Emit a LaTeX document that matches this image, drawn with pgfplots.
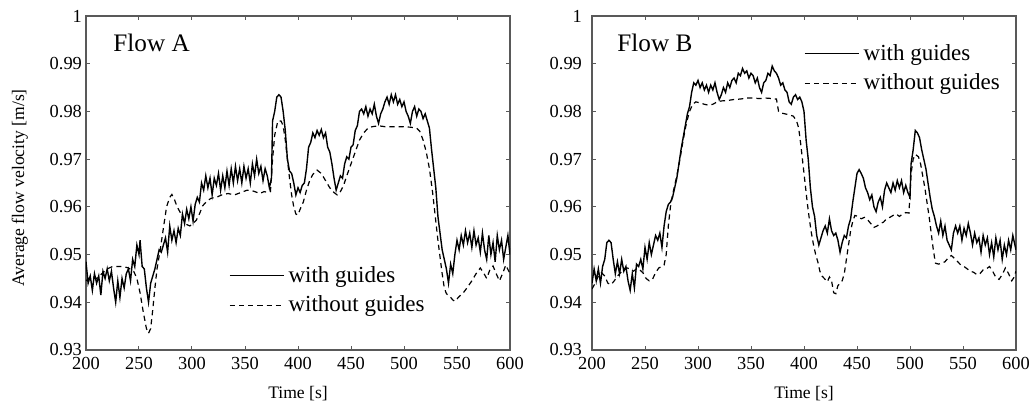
\documentclass[border=0pt]{standalone}
\usepackage{pgfplots}
\pgfplotsset{compat=1.18}
\usepackage{fontspec}
\setmainfont{Liberation Serif}
\definecolor{framegray}{gray}{0.35}

\pgfplotsset{
  panel/.style={
    scale only axis, width=212pt, height=167pt,
    xmin=200, xmax=600, ymin=0.93, ymax=1,
    xtick={200,250,300,350,400,450,500,550,600},
    ytick={0.93,0.94,0.95,0.96,0.97,0.98,0.99,1},
    yticklabels={0.93,0.94,0.95,0.96,0.97,0.98,0.99,1},
    tick align=inside, major tick length=2.2pt,
    axis line style={framegray, line width=0.6pt},
    every tick/.style={framegray, line width=0.5pt},
    ticklabel style={font=\fontsize{9.2}{10}\selectfont},
    /pgf/number format/assume math mode=true,
    xlabel={Time [s]},
    label style={font=\fontsize{8.8}{10}\selectfont},
    xlabel style={at={(axis description cs:0.5,-0.129)}, anchor=center},
    legend cell align=left,
    legend style={draw=none, fill=none, font=\fontsize{11.5}{13}\selectfont,
      row sep=1.4pt, inner sep=1pt},
    legend image code/.code={\draw[#1] (0pt,0pt) -- (23.5pt,0pt); \path (0pt,0pt) -- (27pt,0pt);},
  },
  wg/.style={black, line width=0.7pt},
  wog/.style={black, line width=0.6pt, dash pattern=on 2.6pt off 2pt},
}

\begin{document}
\begin{tikzpicture}
% ---------------- Flow A ----------------
\begin{axis}[panel, at={(0pt,0pt)}, anchor=south west,
  ylabel={Average flow velocity [m/s]},
  ylabel style={at={(axis description cs:-0.156,0.485)}, anchor=center},
  yticklabel style={xshift=1.5pt},
  legend style={at={(0.332,0.27)}, anchor=north west}]
\addplot[wg] coordinates {
(200,0.9485)(202,0.9440)(204,0.9455)(206,0.9425)(208,0.9460)(210,0.9440)(212,0.9455)(214,0.9415)(216,0.9465)(218,0.9450)
(220,0.9470)(222,0.9445)(224,0.9465)(226,0.9430)(228,0.9400)(230,0.9445)(232,0.9410)(234,0.9450)(236,0.9430)(238,0.9460)
(240,0.9470)(242,0.9445)(244,0.9490)(246,0.9475)(248,0.9520)(250,0.9500)(251,0.9530)(253,0.9475)(255,0.9470)(257,0.9430)
(259,0.9400)(261,0.9440)(263,0.9455)(265,0.9470)(267,0.9490)(269,0.9510)(271,0.9505)(273,0.9520)(275,0.9535)(277,0.9505)
(279,0.9560)(281,0.9530)(283,0.9550)(285,0.9525)(287,0.9555)(289,0.9540)(291,0.9585)(293,0.9565)(295,0.9595)(297,0.9575)
(299,0.9600)(301,0.9570)(303,0.9605)(305,0.9620)(307,0.9610)(309,0.9650)(311,0.9635)(313,0.9665)(315,0.9640)(317,0.9660)
(319,0.9625)(321,0.9660)(323,0.9645)(325,0.9670)(327,0.9635)(329,0.9665)(331,0.9640)(333,0.9675)(335,0.9645)(337,0.9680)
(339,0.9650)(341,0.9685)(343,0.9655)(345,0.9680)(347,0.9650)(349,0.9685)(351,0.9660)(353,0.9680)(355,0.9650)(357,0.9690)
(359,0.9665)(361,0.9700)(363,0.9670)(365,0.9685)(367,0.9655)(369,0.9680)(371,0.9665)(373,0.9640)(375,0.9660)(376,0.9780)
(378,0.9800)(380,0.9830)(382,0.9835)(384,0.9830)(386,0.9800)(388,0.9760)(390,0.9700)(392,0.9675)(394,0.9670)(396,0.9650)
(398,0.9625)(400,0.9640)(402,0.9630)(404,0.9645)(406,0.9650)(408,0.9680)(410,0.9725)(412,0.9735)(414,0.9755)(416,0.9745)
(418,0.9760)(420,0.9750)(422,0.9762)(424,0.9745)(426,0.9755)(428,0.9725)(430,0.9715)(432,0.9690)(434,0.9660)(436,0.9635)
(438,0.9650)(440,0.9665)(442,0.9660)(444,0.9690)(446,0.9705)(448,0.9700)(450,0.9725)(452,0.9730)(454,0.9760)(456,0.9770)
(458,0.9800)(460,0.9805)(462,0.9795)(464,0.9810)(466,0.9790)(468,0.9805)(470,0.9795)(472,0.9815)(474,0.9790)(476,0.9775)
(478,0.9795)(480,0.9805)(482,0.9820)(484,0.9830)(486,0.9815)(488,0.9835)(490,0.9820)(492,0.9835)(494,0.9815)(496,0.9825)
(498,0.9810)(500,0.9820)(502,0.9800)(504,0.9790)(506,0.9775)(508,0.9800)(510,0.9810)(512,0.9790)(514,0.9805)(516,0.9800)
(518,0.9785)(520,0.9795)(522,0.9780)(524,0.9765)(526,0.9720)(528,0.9680)(530,0.9640)(532,0.9580)(534,0.9545)(536,0.9510)
(538,0.9490)(540,0.9470)(542,0.9440)(544,0.9480)(546,0.9460)(548,0.9500)(550,0.9530)(552,0.9510)(554,0.9540)(556,0.9520)
(558,0.9550)(560,0.9525)(562,0.9545)(564,0.9515)(566,0.9550)(568,0.9520)(570,0.9535)(572,0.9505)(574,0.9545)(576,0.9510)
(578,0.9490)(580,0.9540)(582,0.9500)(584,0.9525)(586,0.9485)(588,0.9540)(590,0.9510)(592,0.9530)(594,0.9490)(596,0.9515)
(598,0.9540)(600,0.9500)
};
\addlegendentry{with guides}
\addplot[wog] coordinates {
(200,0.9445)(205,0.9455)(210,0.9450)(215,0.9460)(220,0.9470)(225,0.9475)(230,0.9475)(235,0.9475)(240,0.9472)(245,0.9465)
(248,0.9450)(251,0.9420)(254,0.9380)(257,0.9345)(259,0.9335)(261,0.9345)(263,0.9385)(265,0.9430)(267,0.9470)(270,0.9510)
(273,0.9555)(276,0.9600)(279,0.9620)(281,0.9626)(283,0.9618)(286,0.9600)(289,0.9588)(292,0.9575)(295,0.9563)(298,0.9560)
(301,0.9565)(304,0.9572)(307,0.9585)(310,0.9602)(314,0.9612)(318,0.9618)(323,0.9620)(328,0.9625)(334,0.9628)(340,0.9625)
(346,0.9630)(352,0.9635)(358,0.9633)(364,0.9628)(368,0.9632)(372,0.9630)(374,0.9632)(376,0.9700)(378,0.9750)(381,0.9780)
(384,0.9780)(386,0.9770)(388,0.9740)(390,0.9700)(392,0.9660)(394,0.9625)(396,0.9600)(398,0.9585)(400,0.9583)(402,0.9595)
(405,0.9610)(408,0.9635)(411,0.9655)(414,0.9668)(418,0.9677)(422,0.9670)(426,0.9655)(430,0.9640)(434,0.9630)(437,0.9625)
(440,0.9632)(443,0.9645)(446,0.9665)(450,0.9690)(454,0.9715)(458,0.9740)(462,0.9755)(466,0.9765)(470,0.9768)(476,0.9770)
(482,0.9768)(490,0.9768)(498,0.9768)(506,0.9767)(512,0.9765)(515,0.9758)(518,0.9740)(521,0.9715)(524,0.9680)(527,0.9630)
(530,0.9570)(532,0.9530)(534,0.9495)(536,0.9460)(538,0.9430)(540,0.9418)(543,0.9413)(546,0.9405)(548,0.9402)(552,0.9412)
(556,0.9420)(560,0.9432)(564,0.9445)(568,0.9460)(572,0.9472)(575,0.9462)(578,0.9450)(581,0.9468)(584,0.9476)(587,0.9460)
(590,0.9445)(593,0.9460)(596,0.9478)(600,0.9460)
};
\addlegendentry{without guides}
\end{axis}

% ---------------- Flow B ----------------
\begin{axis}[panel, at={(253pt,0pt)}, anchor=south west,
  yticklabel style={xshift=-1.5pt},
  legend style={at={(0.495,0.935)}, anchor=north west}]
\addplot[wg] coordinates {
(200,0.9440)(202,0.9470)(204,0.9445)(206,0.9470)(208,0.9440)(210,0.9475)(212,0.9490)(214,0.9525)(216,0.9530)(218,0.9525)
(220,0.9490)(222,0.9460)(224,0.9485)(226,0.9460)(228,0.9490)(230,0.9465)(232,0.9475)(234,0.9445)(236,0.9425)(238,0.9460)
(240,0.9430)(242,0.9480)(244,0.9475)(246,0.9490)(248,0.9470)(250,0.9515)(252,0.9490)(254,0.9525)(256,0.9500)(258,0.9520)
(260,0.9540)(262,0.9530)(264,0.9545)(266,0.9515)(268,0.9560)(270,0.9590)(272,0.9605)(274,0.9610)(276,0.9620)(278,0.9640)
(280,0.9660)(282,0.9690)(284,0.9720)(286,0.9745)(288,0.9770)(290,0.9795)(292,0.9810)(294,0.9840)(296,0.9860)(298,0.9855)
(300,0.9865)(302,0.9850)(304,0.9860)(306,0.9845)(308,0.9855)(310,0.9840)(312,0.9855)(314,0.9845)(316,0.9860)(318,0.9840)
(320,0.9825)(322,0.9835)(324,0.9850)(326,0.9840)(328,0.9860)(330,0.9850)(332,0.9865)(334,0.9870)(336,0.9860)(338,0.9880)
(340,0.9875)(342,0.9890)(344,0.9880)(346,0.9885)(348,0.9870)(350,0.9880)(352,0.9875)(354,0.9860)(356,0.9870)(358,0.9850)
(360,0.9840)(362,0.9860)(364,0.9865)(366,0.9880)(368,0.9875)(370,0.9895)(372,0.9885)(374,0.9880)(376,0.9870)(378,0.9855)
(380,0.9860)(382,0.9845)(384,0.9840)(386,0.9820)(388,0.9815)(390,0.9830)(392,0.9835)(394,0.9825)(396,0.9830)(398,0.9820)
(400,0.9800)(402,0.9740)(404,0.9700)(406,0.9640)(408,0.9600)(410,0.9580)(412,0.9540)(414,0.9520)(416,0.9535)(418,0.9550)
(420,0.9560)(422,0.9545)(424,0.9575)(426,0.9550)(428,0.9540)(430,0.9545)(432,0.9530)(434,0.9505)(436,0.9525)(438,0.9540)
(440,0.9535)(442,0.9560)(444,0.9575)(446,0.9610)(448,0.9640)(450,0.9670)(452,0.9678)(454,0.9670)(456,0.9660)(458,0.9640)
(460,0.9630)(462,0.9615)(464,0.9625)(466,0.9600)(468,0.9590)(470,0.9610)(472,0.9620)(474,0.9600)(476,0.9635)(478,0.9650)
(480,0.9640)(482,0.9630)(484,0.9650)(486,0.9635)(488,0.9655)(490,0.9640)(492,0.9655)(494,0.9630)(496,0.9645)(498,0.9630)
(500,0.9620)(501,0.9690)(503,0.9720)(505,0.9760)(507,0.9755)(509,0.9745)(511,0.9720)(513,0.9700)(515,0.9680)(517,0.9650)
(519,0.9620)(521,0.9595)(523,0.9580)(525,0.9560)(527,0.9545)(529,0.9570)(531,0.9540)(533,0.9560)(535,0.9530)(537,0.9520)
(539,0.9510)(541,0.9545)(543,0.9560)(545,0.9545)(547,0.9560)(549,0.9530)(551,0.9555)(553,0.9540)(555,0.9565)(557,0.9545)
(559,0.9520)(561,0.9545)(563,0.9525)(565,0.9535)(567,0.9505)(569,0.9540)(571,0.9520)(573,0.9535)(575,0.9500)(577,0.9525)
(579,0.9495)(581,0.9535)(583,0.9510)(585,0.9530)(587,0.9490)(589,0.9520)(591,0.9500)(593,0.9530)(595,0.9510)(597,0.9540)
(600,0.9510)
};
\addlegendentry{with guides}
\addplot[wog] coordinates {
(200,0.9428)(203,0.9440)(206,0.9455)(209,0.9462)(212,0.9455)(215,0.9440)(218,0.9437)(221,0.9445)(224,0.9455)(227,0.9462)
(230,0.9470)(233,0.9472)(236,0.9470)(239,0.9465)(242,0.9470)(245,0.9468)(248,0.9462)(251,0.9450)(254,0.9445)(257,0.9448)
(260,0.9462)(263,0.9472)(266,0.9475)(268,0.9478)(270,0.9500)(272,0.9560)(274,0.9600)(276,0.9625)(278,0.9645)(280,0.9665)
(283,0.9700)(286,0.9740)(289,0.9775)(292,0.9800)(295,0.9815)(298,0.9820)(302,0.9818)(306,0.9815)(310,0.9813)(314,0.9815)
(318,0.9820)(322,0.9822)(328,0.9823)(334,0.9825)(340,0.9826)(346,0.9828)(352,0.9828)(358,0.9827)(364,0.9828)(370,0.9827)
(374,0.9826)(376,0.9800)(378,0.9797)(382,0.9795)(386,0.9793)(390,0.9790)(393,0.9780)(395,0.9765)(397,0.9730)(399,0.9690)
(401,0.9650)(403,0.9610)(405,0.9575)(407,0.9545)(409,0.9520)(411,0.9500)(413,0.9485)(415,0.9465)(417,0.9455)(420,0.9448)
(422,0.9443)(424,0.9453)(426,0.9445)(428,0.9420)(430,0.9418)(432,0.9435)(434,0.9440)(436,0.9445)(438,0.9460)(440,0.9490)
(442,0.9520)(444,0.9550)(446,0.9570)(448,0.9582)(451,0.9580)(454,0.9575)(457,0.9578)(460,0.9573)(463,0.9565)(466,0.9557)
(469,0.9560)(472,0.9565)(475,0.9568)(478,0.9575)(481,0.9578)(484,0.9582)(487,0.9585)(490,0.9580)(493,0.9585)(496,0.9588)
(499,0.9587)(501,0.9670)(503,0.9700)(505,0.9710)(508,0.9705)(510,0.9690)(512,0.9665)(514,0.9640)(516,0.9610)(518,0.9580)
(520,0.9545)(522,0.9510)(524,0.9482)(527,0.9480)(530,0.9482)(533,0.9485)(536,0.9493)(539,0.9498)(542,0.9492)(545,0.9485)
(548,0.9478)(551,0.9475)(554,0.9470)(557,0.9465)(560,0.9463)(563,0.9458)(566,0.9460)(569,0.9468)(572,0.9470)(575,0.9475)
(578,0.9465)(581,0.9452)(584,0.9448)(587,0.9458)(590,0.9472)(593,0.9460)(596,0.9445)(598,0.9452)(600,0.9465)
};
\addlegendentry{without guides}
\end{axis}

\node[anchor=west, font=\fontsize{12.6}{14}\selectfont, inner sep=0pt] at (13.5pt,153.5pt) {Flow A};
\node[anchor=west, font=\fontsize{12.6}{14}\selectfont, inner sep=0pt] at (265.5pt,153.5pt) {Flow B};

\pgfresetboundingbox
\path (-43pt,-27pt) rectangle (474pt,175pt);
\end{tikzpicture}
\end{document}
